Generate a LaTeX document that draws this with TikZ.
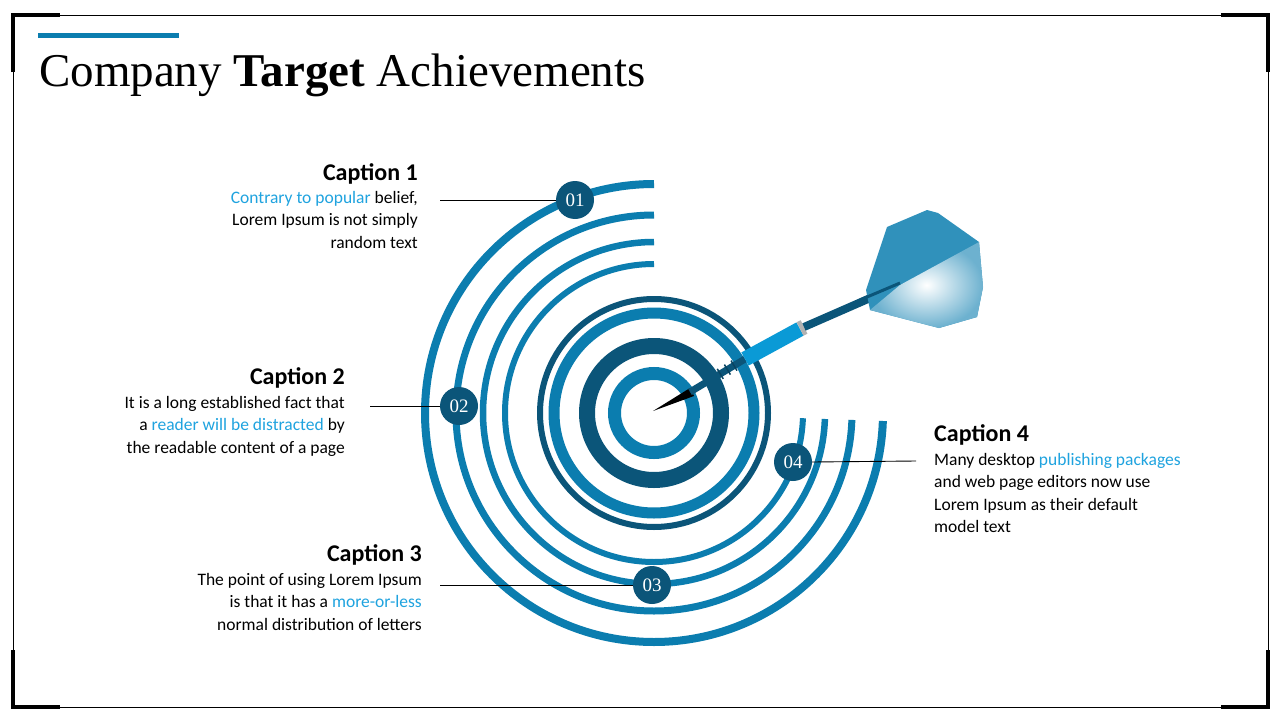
\documentclass[tikz,border=0pt]{standalone}
\usepackage{fontspec}
\setmainfont{Liberation Serif}
\newfontfamily\capfont{Carlito}
\usetikzlibrary{shadings,calc}
\definecolor{ringL}{HTML}{0B7DAF}
\definecolor{ringD}{HTML}{0B5579}
\definecolor{hl}{HTML}{1FA3DF}
\definecolor{barrel}{HTML}{0A9AD6}
\tikzset{
  badge/.style={circle,fill=ringD,minimum size=38pt,inner sep=0pt,text=white,font=\fontsize{19}{19}\selectfont},
  leader/.style={draw=black,line width=0.9pt},
  head/.style={font=\capfont\bfseries\fontsize{24}{28}\selectfont},
  body/.style={font=\capfont\fontsize{17.5}{22.5}\selectfont,inner sep=0pt},
  openarc/.style={draw=ringL,line cap=butt},
}
\begin{document}
\begin{tikzpicture}[x=1pt,y=-1pt]
\useasboundingbox (0,0) rectangle (1280,720);
\fill[white] (0,0) rectangle (1280,720);
% frame
\draw[line width=1pt] (13,15) rectangle (1268,707);
\draw[line width=4pt] (13,72) -- (13,15) -- (60,15);
\draw[line width=4pt] (1221,15) -- (1268,15) -- (1268,72);
\draw[line width=4pt] (13,650) -- (13,707) -- (60,707);
\draw[line width=4pt] (1221,707) -- (1268,707) -- (1268,650);
% title
\fill[ringL] (38,32.5) rectangle (179,37.5);
\node[anchor=base west,inner sep=0pt,font=\fontsize{47}{50}\selectfont] (title) at (39,86) {Company \textbf{Target} Achievements};
% open arcs
\coordinate (c) at (654,413);
\foreach \r/\w in {229/8,198/7,171/6.5,149/6}{
  \draw[openarc,line width=\w pt] ([shift={(-90:\r)}]c) arc[start angle=-90,end angle=-358,radius=\r];
}
% rings
\draw[ringD,line width=6pt] (c) circle[radius=114];
\draw[ringL,line width=11pt] (c) circle[radius=100];
\draw[ringD,line width=16pt] (c) circle[radius=67];
\draw[ringL,line width=13pt] (c) circle[radius=39.5];
% dart
\fill[black] (653,411) -- (690,388) -- (694,396) -- cycle;
\draw[ringD,line width=7pt] (690,392) -- (745,359);
\foreach \t in {0.55,0.68,0.8}{
  \draw[ringD!80!black,line width=1.5pt] ($(690,392)!\t!(745,359)+(-3,-5)$) -- ++(6,10);
}
\draw[barrel,line width=15pt] (745,359) -- (800,329);
\draw[gray!60,line width=15pt] (800,329) -- (804,327);
\draw[ringD,line width=8pt] (804,327) -- (900,285);
\fill[ringL!85!white] (887,227) -- (927,210) -- (938,213) -- (979,242) -- (983,287) -- (977,317) -- (939,328) -- (870,310) -- (866,290) -- cycle;
\shade[inner color=white,outer color=ringL!60!white] (900,285) -- (979,242) -- (983,287) -- (977,317) -- (939,328) -- (870,310) -- cycle;
\draw[ringD,line width=3pt] (860,300) -- (900,283);
% badges
\node[badge] (b1) at (575,200) {01};
\node[badge] (b2) at (459,406) {02};
\node[badge] (b3) at (652,585) {03};
\node[badge] (b4) at (793,462) {04};
\coordinate (l1) at (440,200);
\coordinate (l2) at (370,406);
\coordinate (l3) at (440,585);
\coordinate (l4) at (916,461);
\draw[leader] (l1) -- (b1.west);
\draw[leader] (l2) -- (b2.west);
\draw[leader] (l3) -- (b3.west);
\draw[leader] (b4.east) -- (l4);
% captions
\node[head,anchor=base east,inner sep=0pt] (h1) at (418,180) {Caption 1};
\node[body,anchor=north east,align=right] (t1) at (418,191) {\textcolor{hl}{Contrary to popular} belief,\\Lorem Ipsum is not simply\\random text};
\node[head,anchor=base east,inner sep=0pt] (h2) at (345,384) {Caption 2};
\node[body,anchor=north east,align=right] (t2) at (345,396) {It is a long established fact that\\a \textcolor{hl}{reader will be distracted} by\\the readable content of a page};
\node[head,anchor=base east,inner sep=0pt] (h3) at (422,561) {Caption 3};
\node[body,anchor=north east,align=right] (t3) at (422,573) {The point of using Lorem Ipsum\\is that it has a \textcolor{hl}{more-or-less}\\normal distribution of letters};
\node[head,anchor=base west,inner sep=0pt] (h4) at (934,441) {Caption 4};
\node[body,anchor=north west,align=left] (t4) at (934,453) {Many desktop \textcolor{hl}{publishing packages}\\and web page editors now use\\Lorem Ipsum as their default\\model text};
\end{tikzpicture}
\end{document}
